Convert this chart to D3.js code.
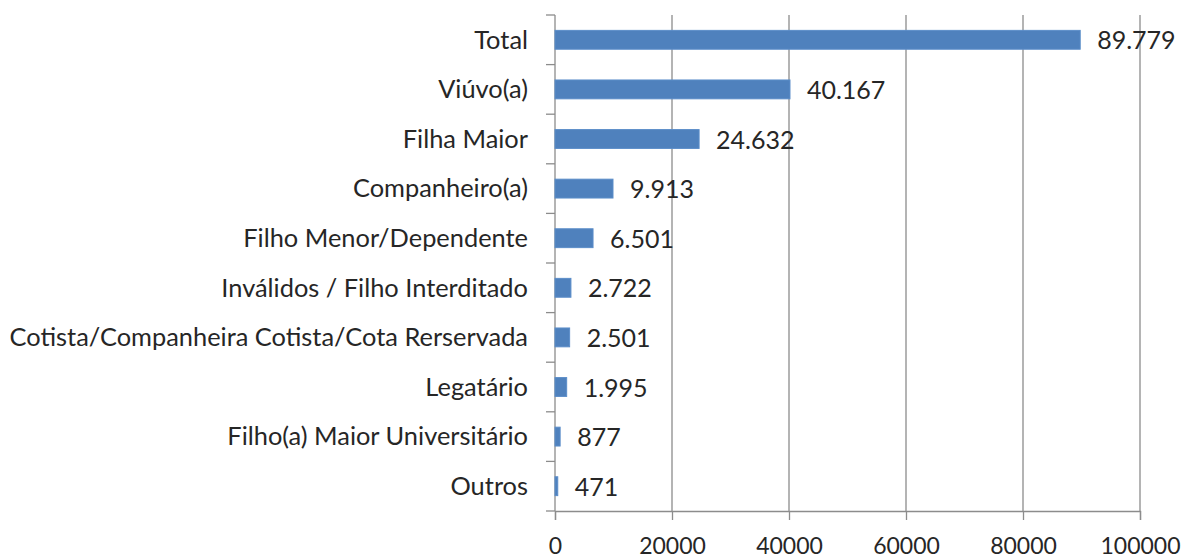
<!DOCTYPE html>
<html lang="pt">
<head>
<meta charset="utf-8">
<title>Pensionistas por tipo</title>
<script src="https://d3js.org/d3.v7.min.js"></script>
<style>
  body { margin: 0; background: #fff; }
  svg { display: block; }
  text { font-family: Lato, "Open Sans", sans-serif; fill: #262626; }
</style>
</head>
<body>
<svg width="1185" height="558"></svg>
<script>
  // data
  const categories = ["Total", "Viúvo(a)", "Filha Maior", "Companheiro(a)", "Filho Menor/Dependente",
    "Inválidos / Filho Interditado", "Cotista/Companheira Cotista/Cota Rerservada", "Legatário",
    "Filho(a) Maior Universitário", "Outros"];
  const values = [89779, 40167, 24632, 9913, 6501, 2722, 2501, 1995, 877, 471];
  const valueLabels = ["89.779", "40.167", "24.632", "9.913", "6.501", "2.722", "2.501", "1.995", "877", "471"];
  const xTicks = [0, 20000, 40000, 60000, 80000, 100000];

  const data = categories.map((c, i) => ({ cat: c, value: values[i], label: valueLabels[i] }));

  let svg = d3.select("svg"),
      margin = { top: 15, right: 45, bottom: 47, left: 555 },
      width = +svg.attr("width") - margin.left - margin.right,
      height = +svg.attr("height") - margin.top - margin.bottom,
      g = svg.append("g").attr("transform", "translate(" + margin.left + "," + margin.top + ")");

  let x = d3.scaleLinear().domain([0, 100000]).range([0, width]);
  let y = d3.scaleBand().domain(categories).range([0, height]).paddingInner(0.62).paddingOuter(0.31);

  const grid = "#8c8c8c";

  // vertical gridlines
  g.selectAll(".grid")
    .data(xTicks.slice(1))
    .enter().append("line")
    .attr("x1", d => x(d)).attr("x2", d => x(d))
    .attr("y1", 0).attr("y2", height)
    .attr("stroke", grid).attr("stroke-width", 1.3);

  // x axis
  let xAxis = g.append("g")
    .attr("transform", "translate(0," + height + ")")
    .call(d3.axisBottom(x).tickValues(xTicks).tickFormat(d3.format("d")).tickSize(9));
  xAxis.select(".domain").attr("stroke", grid).attr("stroke-width", 1.3);
  xAxis.selectAll(".tick line").attr("stroke", grid).attr("stroke-width", 1.3);
  xAxis.selectAll("text")
    .attr("y", 43).attr("dy", 0)
    .style("font-size", "23px").attr("fill", "#262626");

  // y axis: ticks at band boundaries
  const step = height / categories.length;
  g.append("line")
    .attr("x1", 0).attr("x2", 0).attr("y1", 0).attr("y2", height)
    .attr("stroke", grid).attr("stroke-width", 1.3);
  g.selectAll(".ytick")
    .data(d3.range(categories.length + 1))
    .enter().append("line")
    .attr("x1", -9).attr("x2", 0)
    .attr("y1", d => d * step).attr("y2", d => d * step)
    .attr("stroke", grid).attr("stroke-width", 1.3);

  g.selectAll(".cat")
    .data(data)
    .enter().append("text")
    .attr("x", -27)
    .attr("y", d => y(d.cat) + y.bandwidth() / 2)
    .attr("dy", "0.35em")
    .attr("text-anchor", "end")
    .style("font-size", "25.4px")
    .text(d => d.cat);

  // bars
  g.selectAll(".bar")
    .data(data)
    .enter().append("rect")
    .attr("x", 0)
    .attr("y", d => y(d.cat))
    .attr("width", d => x(d.value))
    .attr("height", y.bandwidth())
    .attr("fill", "#4f81bd")
    .attr("stroke", "#5b8dc9")
    .attr("stroke-width", 1);

  // value labels
  g.selectAll(".val")
    .data(data)
    .enter().append("text")
    .attr("x", d => x(d.value) + 17)
    .attr("y", d => y(d.cat) + y.bandwidth() / 2)
    .attr("dy", "0.38em")
    .style("font-size", "25px")
    .text(d => d.label);
</script>
</body>
</html>
